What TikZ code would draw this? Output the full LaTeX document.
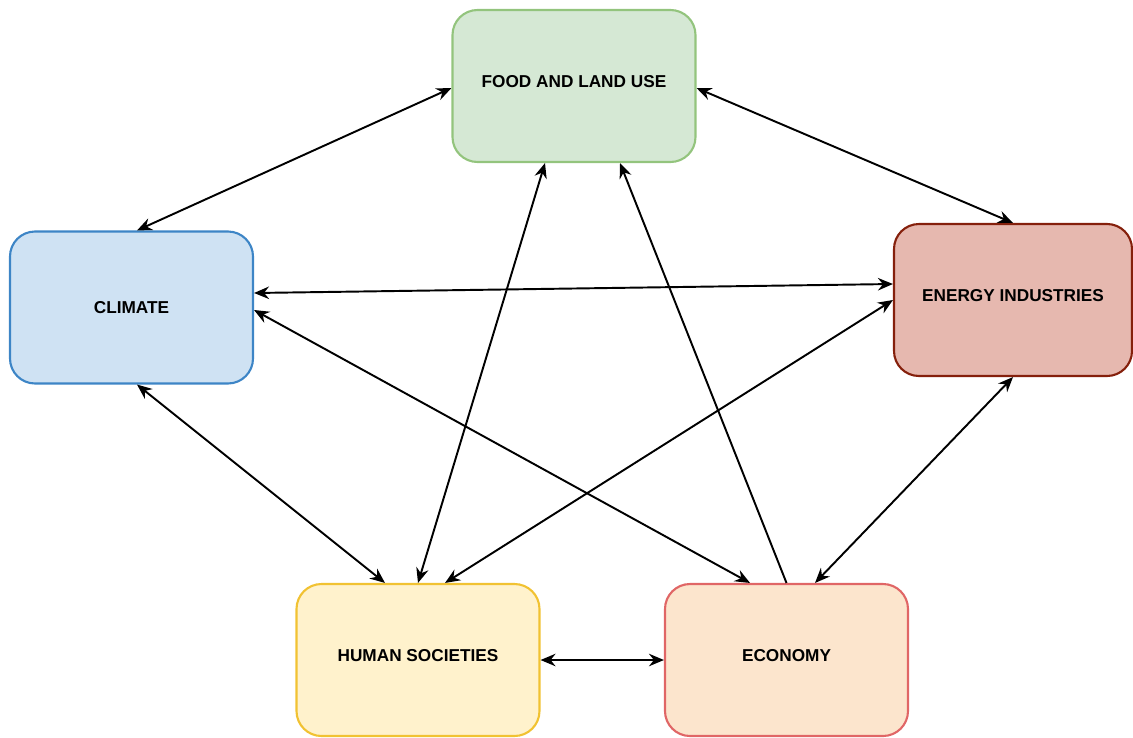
\documentclass[tikz,border=0pt]{standalone}
\usepackage{fontspec}
\setmainfont{Liberation Sans}
\usetikzlibrary{arrows.meta}
\definecolor{foodfill}{HTML}{D5E8D4}
\definecolor{foodline}{HTML}{93C47D}
\definecolor{climatefill}{HTML}{CFE2F3}
\definecolor{climateline}{HTML}{3D85C6}
\definecolor{energyfill}{HTML}{E6B8AF}
\definecolor{energyline}{HTML}{85200C}
\definecolor{humanfill}{HTML}{FFF2CC}
\definecolor{humanline}{HTML}{F1C232}
\definecolor{economyfill}{HTML}{FCE5CD}
\definecolor{economyline}{HTML}{E06666}

\begin{document}
\begin{tikzpicture}[font=\fontsize{9.8}{12}\selectfont\bfseries,
	>={Stealth[length=3mm,width=2.5mm,inset=1mm]},
	box/.style={rectangle, rounded corners=0.5cm, minimum width=4.86cm,
		minimum height=3.04cm, line width=1.2pt, align=center, text depth=0.2cm},
	link/.style={<->, line width=1.1pt},
	oneway/.style={->, line width=1.1pt}]
	
	\useasboundingbox (0,0) rectangle (22.66,-14.74);
	
	%----------------------------
	% Boxes
	%----------------------------
	\node[box, draw=foodline, fill=foodfill] (food) at (11.48,-1.72) {FOOD AND LAND USE};
	\node[box, draw=climateline, fill=climatefill, text depth=0pt] (climate) at (2.63,-6.15) {CLIMATE};
	\node[box, draw=energyline, fill=energyfill, minimum width=4.76cm] (energy) at (20.26,-6.0) {ENERGY INDUSTRIES};
	\node[box, draw=humanline, fill=humanfill] (human) at (8.36,-13.2) {HUMAN SOCIETIES};
	\node[box, draw=economyline, fill=economyfill] (economy) at (15.73,-13.2) {ECONOMY};
	
	%----------------------------
	% Links around the outside
	%----------------------------
	\draw[link] ([xshift=0.11cm]climate.north) -- ([yshift=-0.04cm]food.west);
	\draw[link] ([yshift=-0.04cm]food.east) -- (energy.north);
	\draw[link] (energy.south) -- ([xshift=0.57cm]economy.north);
	\draw[link] (human.east) -- (economy.west);
	\draw[link] ([xshift=0.11cm]climate.south) -- ([xshift=-0.66cm]human.north);
	
	%----------------------------
	% Links across the middle
	%----------------------------
	\draw[link] ([yshift=0.29cm]climate.east) -- ([yshift=0.32cm]energy.west);
	\draw[link] ([yshift=-0.05cm]climate.east) -- ([xshift=-0.73cm]economy.north);
	\draw[link] ([xshift=-0.58cm]food.south) -- (human.north);
	\draw[oneway] (economy.north) -- ([xshift=0.92cm]food.south);
	\draw[link] (energy.west) -- ([xshift=0.54cm]human.north);
	
\end{tikzpicture}
\end{document}
